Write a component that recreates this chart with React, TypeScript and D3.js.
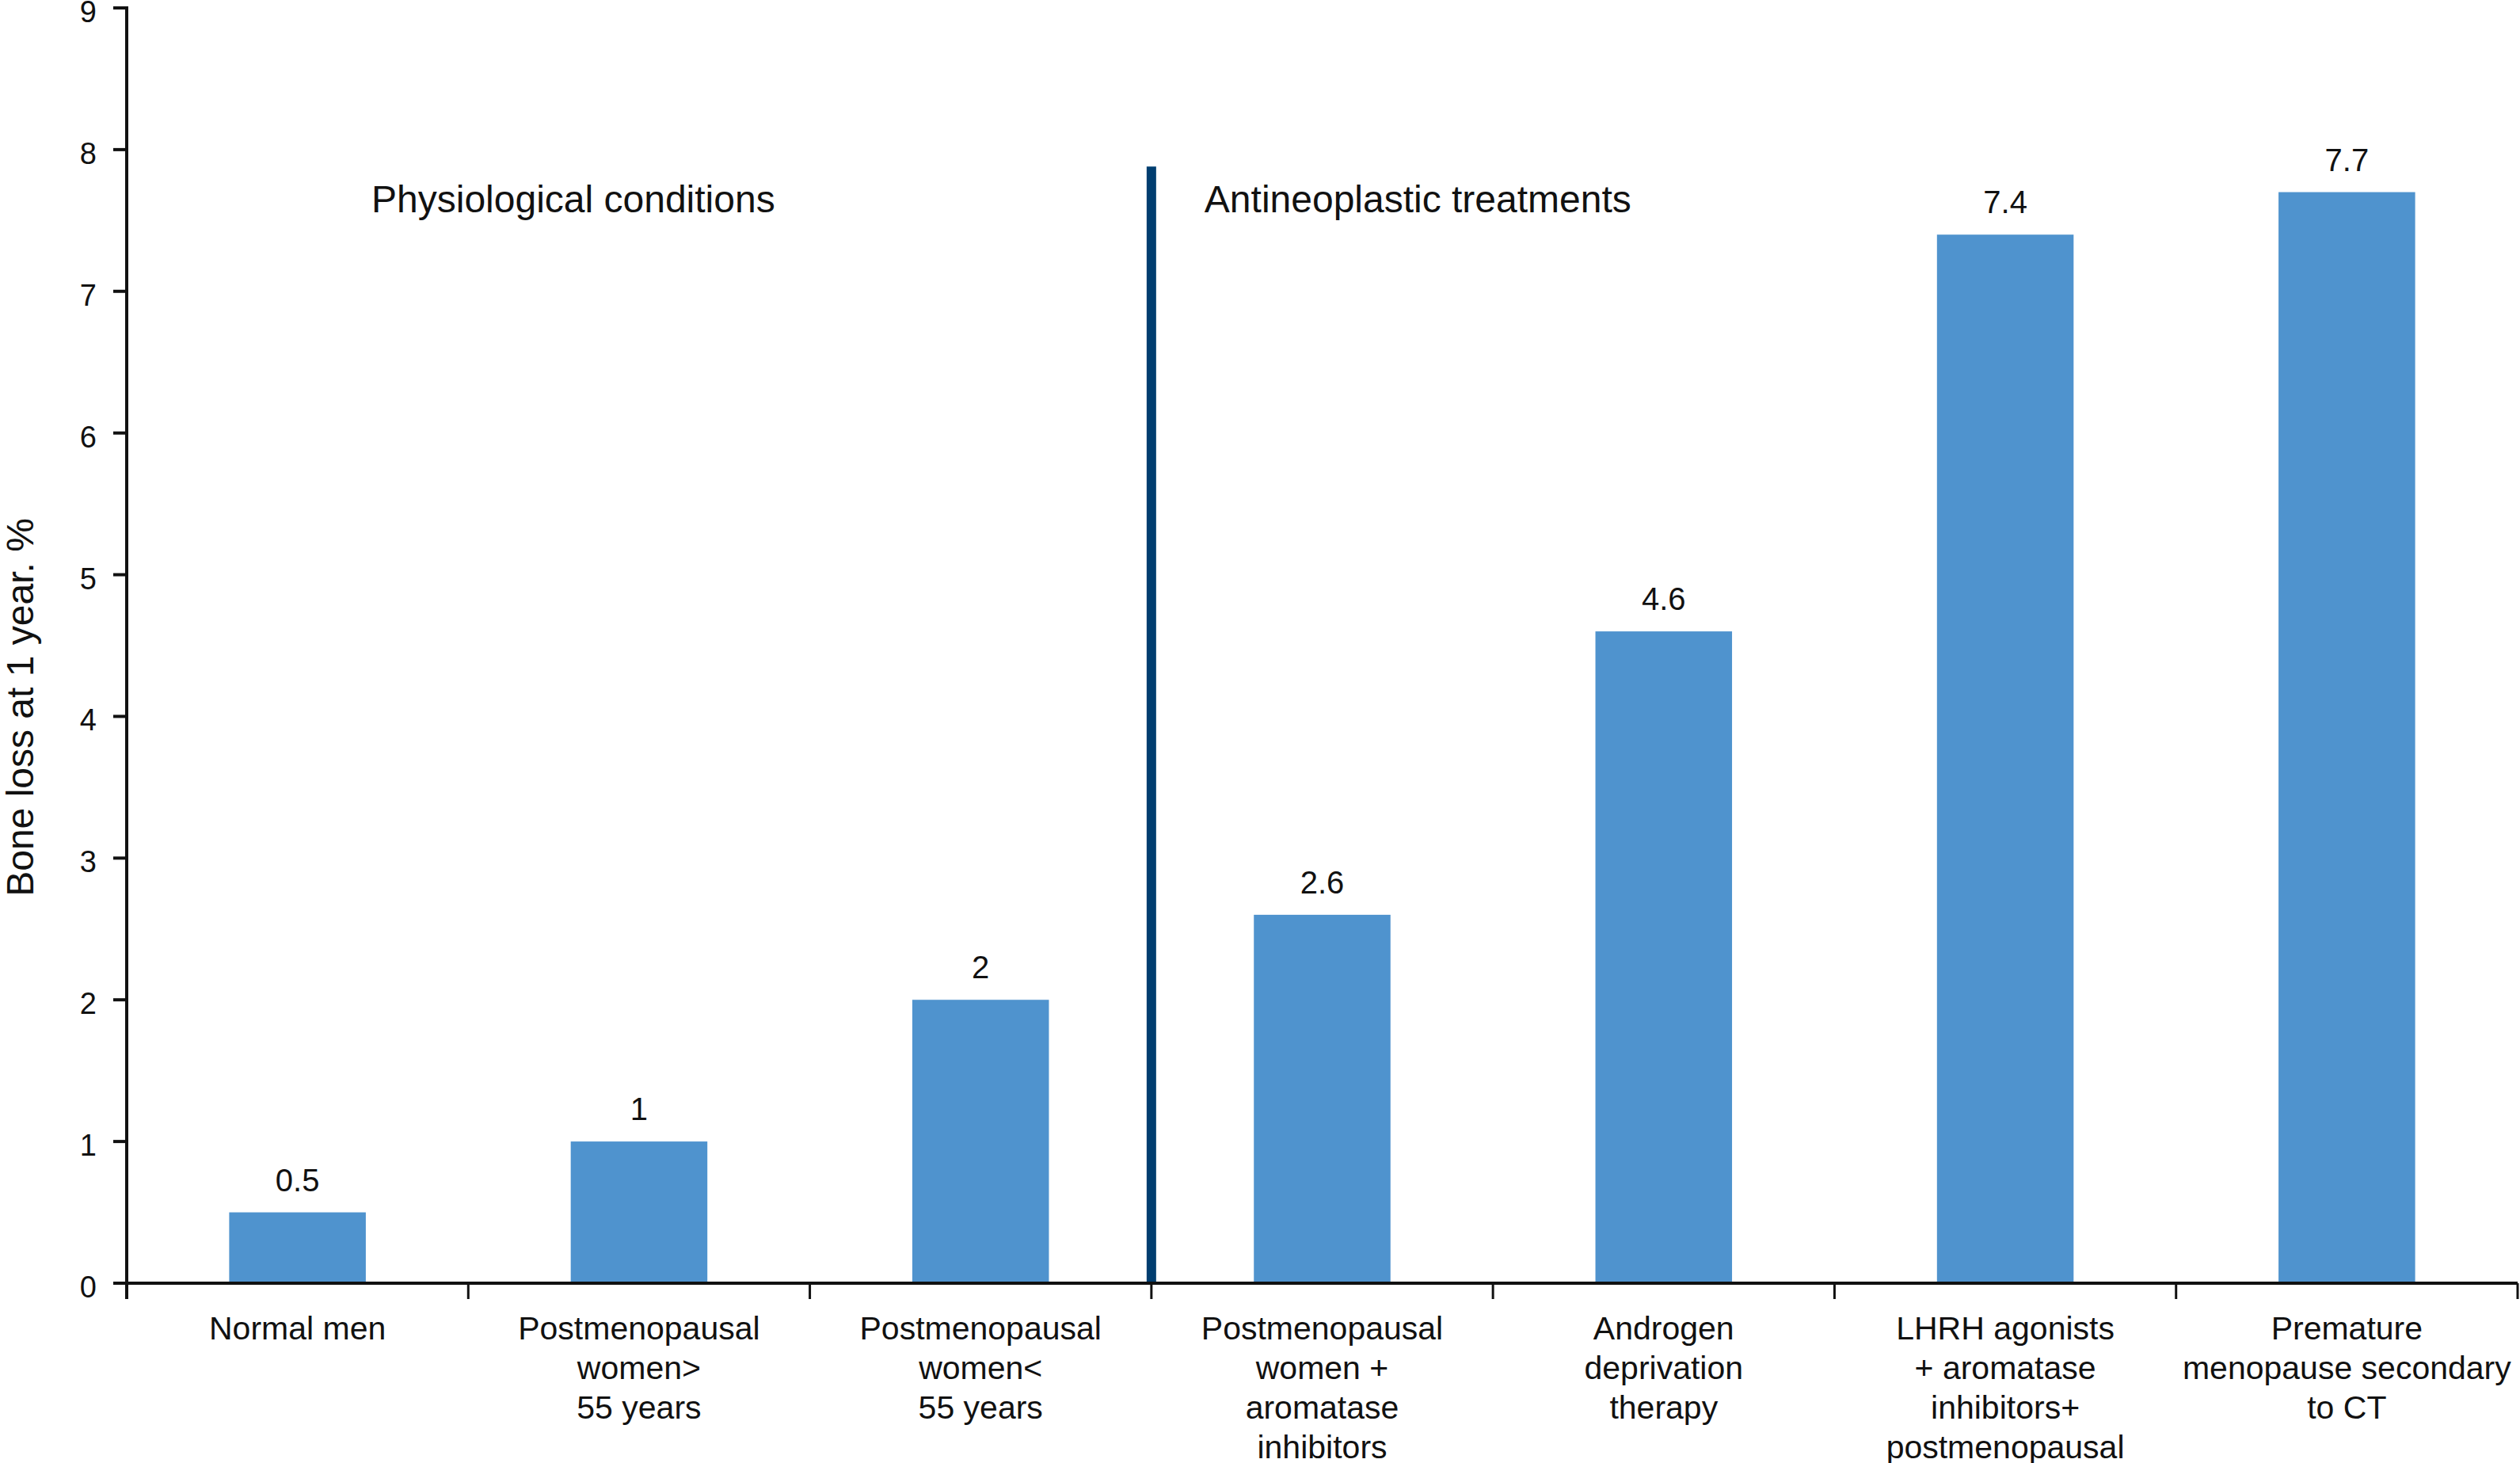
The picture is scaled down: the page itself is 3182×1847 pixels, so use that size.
import React from "react";
import * as d3 from "d3";

const categories: string[][] = [
  ["Normal men"],
  ["Postmenopausal", "women>", "55 years"],
  ["Postmenopausal", "women<", "55 years"],
  ["Postmenopausal", "women +", "aromatase", "inhibitors"],
  ["Androgen", "deprivation", "therapy"],
  ["LHRH agonists", "+ aromatase", "inhibitors+", "postmenopausal"],
  ["Premature", "menopause secondary", "to CT"],
];
const values: number[] = [0.5, 1, 2, 2.6, 4.6, 7.4, 7.7];
const valueLabels: string[] = ["0.5", "1", "2", "2.6", "4.6", "7.4", "7.7"];
const yTicks: number[] = [0, 1, 2, 3, 4, 5, 6, 7, 8, 9];
const sectionLabels: string[] = ["Physiological conditions", "Antineoplastic treatments"];
const yTitle = "Bone loss at 1 year. %";

const W = 3182;
const H = 1847;
const left = 160;
const right = 3179;
const top = 10;
const bottom = 1620;
const FONT = "'Liberation Sans', Arial, Helvetica, sans-serif";
const BAR = "#4F93CE";
const DIVIDER = "#003E70";

export default function App() {
  const ids = categories.map((_, i) => String(i));
  const slot = d3.scaleBand<string>().domain(ids).range([left, right]).padding(0);
  const x = d3
    .scaleBand<string>()
    .domain(ids)
    .range([left, right])
    .paddingInner(0.6)
    .paddingOuter(0.3);
  const y = d3.scaleLinear().domain([0, 9]).range([bottom, top]);
  const boundaries = ids.map((id) => slot(id) as number).concat([right]);
  const dividerX = slot("3") as number;

  return (
    <div>
      <style>{`body{margin:0;background:#fff}`}</style>
      <svg width={W} height={H} viewBox={`0 0 ${W} ${H}`} style={{ display: "block" }}>
        <rect width={W} height={H} fill="#fff" />
        {values.map((v, i) => (
          <rect
            key={"b" + i}
            x={x(ids[i])}
            y={y(v)}
            width={x.bandwidth()}
            height={y(0) - y(v)}
            fill={BAR}
          />
        ))}
        {values.map((v, i) => (
          <text
            key={"v" + i}
            x={(x(ids[i]) as number) + x.bandwidth() / 2}
            y={y(v) - 27}
            textAnchor="middle"
            fontFamily={FONT}
            fontSize={40}
            fill="#111"
          >
            {valueLabels[i]}
          </text>
        ))}
        <line
          x1={dividerX}
          x2={dividerX}
          y1={y(7.88)}
          y2={y(0)}
          stroke={DIVIDER}
          strokeWidth={12}
        />
        <text x={469} y={268} fontFamily={FONT} fontSize={48} fill="#111">
          {sectionLabels[0]}
        </text>
        <text x={dividerX + 67} y={268} fontFamily={FONT} fontSize={48} fill="#111">
          {sectionLabels[1]}
        </text>
        <line x1={left} x2={left} y1={y(9) - 2} y2={bottom + 20} stroke="#111" strokeWidth={4} />
        {yTicks.map((t) => (
          <g key={"yt" + t}>
            <line x1={left - 17} x2={left} y1={y(t)} y2={y(t)} stroke="#111" strokeWidth={4} />
            <text
              x={left - 38}
              y={y(t) + 18}
              textAnchor="end"
              fontFamily={FONT}
              fontSize={38}
              fill="#111"
            >
              {t}
            </text>
          </g>
        ))}
        <text
          transform={`translate(42, ${893}) rotate(-90)`}
          textAnchor="middle"
          fontFamily={FONT}
          fontSize={48}
          fill="#111"
        >
          {yTitle}
        </text>
        <line x1={left} x2={right} y1={bottom} y2={bottom} stroke="#111" strokeWidth={4} />
        {boundaries.map((b, i) => (
          <line key={"xt" + i} x1={b} x2={b} y1={bottom} y2={bottom + 20} stroke="#111" strokeWidth={3} />
        ))}
        {categories.map((lines, i) => (
          <text
            key={"c" + i}
            x={(slot(ids[i]) as number) + slot.bandwidth() / 2}
            y={1691}
            textAnchor="middle"
            fontFamily={FONT}
            fontSize={41}
            fill="#111"
          >
            {lines.map((ln, j) => (
              <tspan key={j} x={(slot(ids[i]) as number) + slot.bandwidth() / 2} dy={j === 0 ? 0 : 50}>
                {ln}
              </tspan>
            ))}
          </text>
        ))}
      </svg>
    </div>
  );
}
